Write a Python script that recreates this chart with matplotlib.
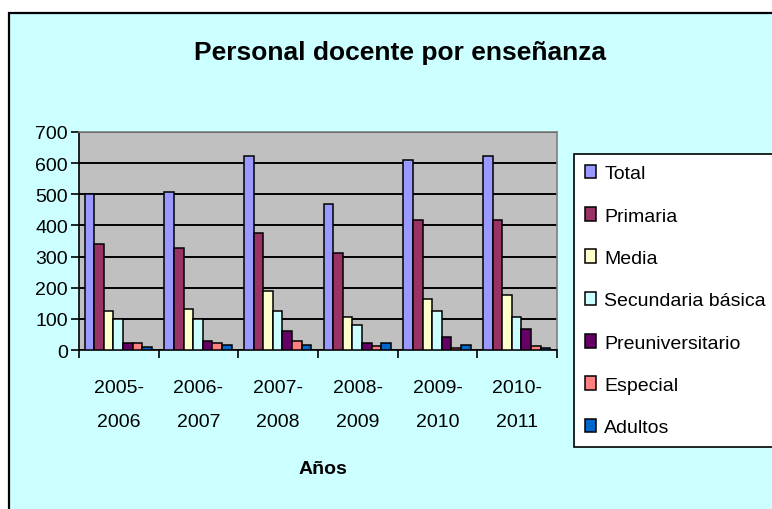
import matplotlib
matplotlib.use("Agg")
import matplotlib.pyplot as plt
import numpy as np
from matplotlib.patches import Rectangle, Patch

categories = ["2005-\n2006", "2006-\n2007", "2007-\n2008", "2008-\n2009", "2009-\n2010", "2010-\n2011"]
series_names = ["Total", "Primaria", "Media", "Secundaria básica", "Preuniversitario", "Especial", "Adultos"]
total = [500, 507, 623, 468, 610, 623]
primaria = [340, 327, 377, 313, 416, 416]
media = [126, 133, 190, 106, 165, 177]
secundaria = [99, 99, 126, 81, 126, 106]
preuniversitario = [22, 29, 62, 22, 41, 68]
especial = [22, 22, 30, 14, 8, 14]
adultos = [10, 16, 16, 22, 16, 8]
series = [total, primaria, media, secundaria, preuniversitario, especial, adultos]
colors = ["#9999FF", "#993366", "#FFFFCC", "#CCFFFF", "#660066", "#FF8080", "#0066CC"]
yticks = [0, 100, 200, 300, 400, 500, 600, 700]

plt.rcParams['font.family'] = ['Liberation Sans', 'DejaVu Sans']

W, H = 772, 510
fig = plt.figure(figsize=(W/100, H/100), dpi=100, facecolor="white")

# outer chart area
bg = Rectangle((9/W, -0.1), 1.2, 1 - 14/H + 0.1, transform=fig.transFigure,
               facecolor="#CCFFFF", edgecolor="black", linewidth=1.6, zorder=-5)
fig.add_artist(bg)

ax = fig.add_axes([79/W, (H-351)/H, (557-79)/W, (351-133)/H])
ax.set_zorder(2)
ax.set_facecolor("#C0C0C0")

n = len(series)
bw = 0.121
start = -0.5 + 0.07
x = np.arange(len(categories))
for i, (vals, c) in enumerate(zip(series, colors)):
    ax.bar(x + start + i*bw, vals, width=bw, align="edge", color=c,
           edgecolor="black", linewidth=1.1, zorder=3)

ax.set_xlim(-0.5, len(categories) - 0.5)
ax.set_ylim(0, 700)
ax.set_yticks(yticks)
ax.set_yticklabels([str(v) for v in yticks], fontsize=14)
ax.yaxis.grid(True, color="black", linewidth=1.4, zorder=1)
ax.set_axisbelow(True)
ax.tick_params(axis="y", direction="out", length=6, width=1.2, pad=2)

ax.set_xticks(x)
ax.set_xticklabels(categories, fontsize=14, linespacing=2.3)
ax.tick_params(axis="x", which="major", length=0, pad=21)
ax.set_xticks(np.arange(-0.5, len(categories)), minor=True)
ax.tick_params(axis="x", which="minor", direction="out", length=6, width=1.2)

for s in ["top", "right"]:
    ax.spines[s].set_color("#808080")
    ax.spines[s].set_linewidth(1.2)
for s in ["left", "bottom"]:
    ax.spines[s].set_color("black")
    ax.spines[s].set_linewidth(1.2)

fig.text(400/W, 1 - 53/H, "Personal docente por enseñanza", fontsize=19,
         fontweight="bold", ha="center", va="center")
fig.text(323/W, 1 - 470/H, "Años", fontsize=14, fontweight="bold",
         ha="center", va="center")

handles = [Patch(facecolor=c, edgecolor="black", linewidth=1.1) for c in colors]
leg = fig.legend(handles, series_names, loc="upper left",
                 bbox_to_anchor=(574/W, 1 - 155/H), bbox_transform=fig.transFigure,
                 fontsize=14, frameon=True, fancybox=False, edgecolor="black",
                 facecolor="white", framealpha=1, handlelength=0.6, handleheight=0.7,
                 handletextpad=0.4, borderpad=0.55, labelspacing=1.27, borderaxespad=0)
leg.get_frame().set_linewidth(1.2)
leg.set_zorder(3)

fig.savefig("out.png", dpi=100, facecolor="white")
